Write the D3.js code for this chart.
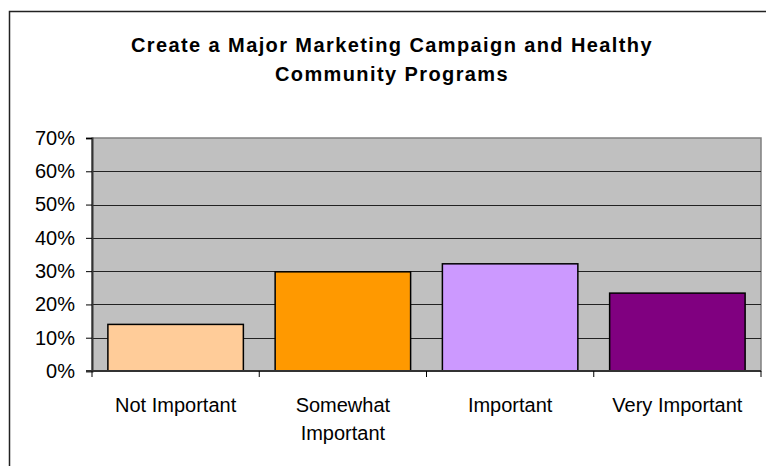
<!DOCTYPE html>
<html>
<head>
<meta charset="utf-8">
<script src="https://cdn.jsdelivr.net/npm/d3@7"></script>
<style>
  html, body { margin: 0; padding: 0; background: #fff; }
  svg { display: block; font-family: "Liberation Sans", Arial, sans-serif; }
</style>
</head>
<body>
<svg id="chart" width="766" height="466"></svg>
<script>
// Survey responses: share of respondents per importance rating
const titleLines = ["Create a Major Marketing Campaign and Healthy", "Community Programs"];
const categories = ["Not Important", "Somewhat Important", "Important", "Very Important"];
const categoryLines = [["Not Important"], ["Somewhat", "Important"], ["Important"], ["Very Important"]];
const shares = [0.140, 0.298, 0.322, 0.234];
const barColors = ["#ffcc99", "#ff9900", "#cc99ff", "#800080"];
const yTicks = [0, 0.1, 0.2, 0.3, 0.4, 0.5, 0.6, 0.7];

const svg = d3.select("#chart");

// Outer chart frame (continues past the right and bottom edges)
svg.append("rect")
  .attr("x", 9.5).attr("y", 11.5)
  .attr("width", 800).attr("height", 500)
  .attr("fill", "#fff").attr("stroke", "#222").attr("stroke-width", 1.5);

const plot = { left: 92, right: 761, top: 138, bottom: 371 };

const x = d3.scaleBand()
  .domain(categories)
  .range([plot.left, plot.right])
  .paddingInner(0.19)
  .paddingOuter(0.095);

const y = d3.scaleLinear()
  .domain([0, 0.7])
  .range([plot.bottom, plot.top]);

// Grey plot background
svg.append("rect")
  .attr("x", plot.left).attr("y", plot.top)
  .attr("width", plot.right - plot.left).attr("height", plot.bottom - plot.top)
  .attr("fill", "#c0c0c0")
  .attr("stroke", "#808080").attr("stroke-width", 1.5);

// Horizontal gridlines
svg.append("g")
  .selectAll("line")
  .data(yTicks.filter(t => t > 0 && t < 0.7))
  .join("line")
  .attr("x1", plot.left).attr("x2", plot.right)
  .attr("y1", d => Math.round(y(d)) + 0.5).attr("y2", d => Math.round(y(d)) + 0.5)
  .attr("stroke", "#222").attr("stroke-width", 1);

// Bars
svg.append("g")
  .selectAll("rect")
  .data(shares)
  .join("rect")
  .attr("x", (d, i) => x(categories[i]))
  .attr("y", d => y(d))
  .attr("width", x.bandwidth())
  .attr("height", d => y(0) - y(d))
  .attr("fill", (d, i) => barColors[i])
  .attr("stroke", "#000").attr("stroke-width", 1.5);

// Y axis
const yAxis = d3.axisLeft(y)
  .tickValues(yTicks)
  .tickFormat(d3.format(".0%"))
  .tickSize(6)
  .tickPadding(11);
const yg = svg.append("g")
  .attr("transform", `translate(${plot.left},0)`)
  .call(yAxis);
yg.select(".domain").attr("stroke", "#333").attr("stroke-width", 2);
yg.selectAll(".tick line").attr("stroke", "#000");
yg.selectAll(".tick text")
  .attr("font-size", 20)
  .attr("font-family", "Liberation Sans, Arial, sans-serif")
  .attr("fill", "#000");

// X axis baseline with ticks between categories
const boundaries = d3.range(categories.length + 1).map(i => plot.left + i * (plot.right - plot.left) / categories.length);
svg.append("line")
  .attr("x1", plot.left - 6).attr("x2", plot.right)
  .attr("y1", plot.bottom).attr("y2", plot.bottom)
  .attr("stroke", "#333").attr("stroke-width", 2);
svg.append("g")
  .selectAll("line")
  .data(boundaries)
  .join("line")
  .attr("x1", d => d).attr("x2", d => d)
  .attr("y1", plot.bottom).attr("y2", plot.bottom + 6)
  .attr("stroke", "#000").attr("stroke-width", 1);

// Category labels
const labels = svg.append("g")
  .attr("font-size", 20)
  .attr("text-anchor", "middle")
  .attr("fill", "#000");
categoryLines.forEach((lines, i) => {
  const cx = x(categories[i]) + x.bandwidth() / 2;
  labels.append("text")
    .attr("x", cx).attr("y", 412)
    .selectAll("tspan")
    .data(lines)
    .join("tspan")
    .attr("x", cx)
    .attr("dy", (d, j) => j === 0 ? 0 : 28)
    .text(d => d);
});

// Title
svg.append("text")
  .attr("x", 392).attr("y", 52)
  .attr("text-anchor", "middle")
  .attr("font-size", 20).attr("font-weight", "bold")
  .attr("letter-spacing", 1.4)
  .attr("fill", "#000")
  .selectAll("tspan")
  .data(titleLines)
  .join("tspan")
  .attr("x", 392)
  .attr("dy", (d, i) => i === 0 ? 0 : 29)
  .text(d => d);
</script>
</body>
</html>
